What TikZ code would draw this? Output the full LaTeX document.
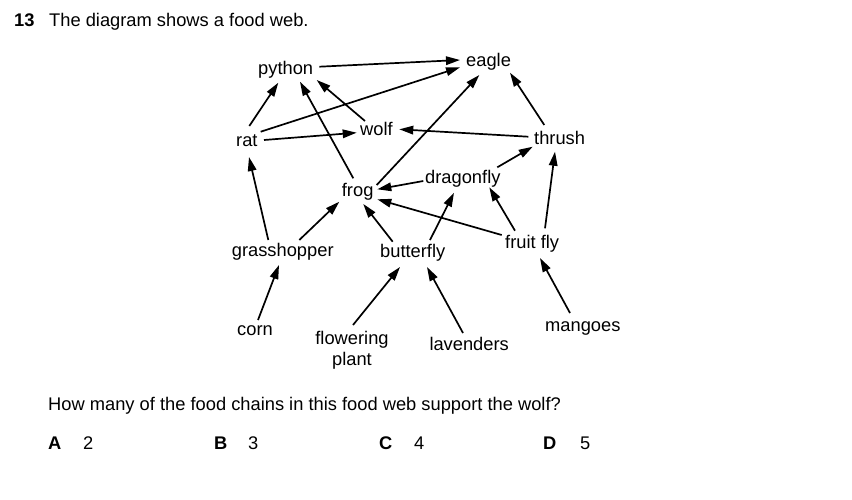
\documentclass[tikz,border=0pt]{standalone}
\usepackage{fontspec}
\setmainfont{Liberation Sans}
\usetikzlibrary{arrows.meta,calc}
\begin{document}
\begin{tikzpicture}[x=1pt,y=-1pt,
  lbl/.style={inner sep=0pt, anchor=base west, font=\fontsize{18.3}{21.5}\selectfont},
  arr/.style={line width=1.7pt, -{Triangle[length=14pt,width=8.5pt]}}]
\useasboundingbox[fill=white] (0,0) rectangle (852,499);
% title
\node[lbl] (qnum) at (14,26) {\textbf{13}};
\node[lbl] (title) at (49,26) {The diagram shows a food web.};
% organisms
\node[lbl] (python) at (258,74.3) {python};
\node[lbl] (eagle) at (466,66.7) {eagle};
\node[lbl] (rat) at (236,146) {rat};
\node[lbl] (wolf) at (360,135.7) {wolf};
\node[lbl] (thrush) at (534,144) {thrush};
\node[lbl] (frog) at (341.7,196) {frog};
\node[lbl] (dragonfly) at (425,183.3) {dragonfly};
\node[lbl] (grasshopper) at (231.7,256.7) {grasshopper};
\node[lbl] (butterfly) at (380,257.7) {butterfly};
\node[lbl] (fruitfly) at (505,248.3) {fruit fly};
\node[lbl] (corn) at (237,335) {corn};
\node[lbl, anchor=north, align=center] (fp) at (352,331) {flowering\\plant};
\node[lbl] (lavenders) at (429.3,350) {lavenders};
\node[lbl] (mangoes) at (545,331.7) {mangoes};
% arrows
\draw[arr] ([shift={(61.3,-7.6)}]python.base west) -- ([shift={(-6,-6.7)}]eagle.base west);
\draw[arr] ([shift={(24.7,-14.3)}]rat.base west) -- ([shift={(-6,0.6)}]eagle.base west);
\draw[arr] ([shift={(13.3,-20)}]rat.base west) -- ([shift={(20.3,8.4)}]python.base west);
\draw[arr] ([shift={(28,-6)}]rat.base west) -- ([shift={(-3.3,-3)}]wolf.base west);
\draw[arr] ([shift={(5,-14.7)}]wolf.base west) -- ([shift={(58.7,5.7)}]python.base west);
\draw[arr] ([shift={(11.6,-17.7)}]frog.base west) -- ([shift={(42,7.4)}]python.base west);
\draw[arr] ([shift={(35,-11)}]frog.base west) -- ([shift={(13.3,8.3)}]eagle.base west);
\draw[arr] ([shift={(10.3,-19)}]thrush.base west) -- ([shift={(44,6)}]eagle.base west);
\draw[arr] ([shift={(-5.7,-7.3)}]thrush.base west) -- ([shift={(39.3,-6.4)}]wolf.base west);
\draw[arr] ([shift={(72.3,-16)}]dragonfly.base west) -- ([shift={(-1.3,2.7)}]thrush.base west);
\draw[arr] ([shift={(-1.7,-2.3)}]dragonfly.base west) -- ([shift={(35.6,-6.7)}]frog.base west);
\draw[arr] ([shift={(-3.3,-13.3)}]fruitfly.base west) -- ([shift={(35.6,3.3)}]frog.base west);
\draw[arr] ([shift={(10,-17.6)}]fruitfly.base west) -- ([shift={(64.3,4)}]dragonfly.base west);
\draw[arr] ([shift={(40,-20)}]fruitfly.base west) -- ([shift={(21,7.7)}]thrush.base west);
\draw[arr] ([shift={(36.6,-16.7)}]grasshopper.base west) -- ([shift={(13,11)}]rat.base west);
\draw[arr] ([shift={(67.6,-16.7)}]grasshopper.base west) -- ([shift={(-2.4,5.7)}]frog.base west);
\draw[arr] ([shift={(12.7,-16)}]butterfly.base west) -- ([shift={(21.6,8)}]frog.base west);
\draw[arr] ([shift={(50,-17.7)}]butterfly.base west) -- ([shift={(29,9.4)}]dragonfly.base west);
\draw[arr] ([shift={(21,-15)}]corn.base west) -- ([shift={(47.3,8.3)}]grasshopper.base west);
\draw[arr] ([shift={(1,-6)}]fp.north) -- ([shift={(20,9.3)}]butterfly.base west);
\draw[arr] ([shift={(33.7,-17)}]lavenders.base west) -- ([shift={(47,9.3)}]butterfly.base west);
\draw[arr] ([shift={(25,-18.7)}]mangoes.base west) -- ([shift={(35,9.7)}]fruitfly.base west);
% question
\node[lbl] (question) at (48,410) {How many of the food chains in this food web support the wolf?};
\node[lbl] (optA) at (48,449) {\textbf{A}};
\node[lbl] (valA) at (83,449) {2};
\node[lbl] (optB) at (214,449) {\textbf{B}};
\node[lbl] (valB) at (248,449) {3};
\node[lbl] (optC) at (379,449) {\textbf{C}};
\node[lbl] (valC) at (414,449) {4};
\node[lbl] (optD) at (543,449) {\textbf{D}};
\node[lbl] (valD) at (580,449) {5};
\end{tikzpicture}
\end{document}
